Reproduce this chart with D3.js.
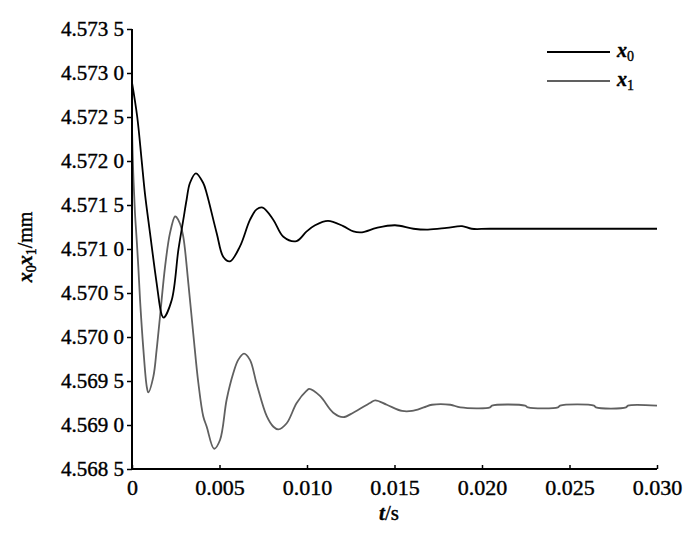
<!DOCTYPE html>
<html>
<head>
<meta charset="utf-8">
<script src="https://cdn.jsdelivr.net/npm/d3@7"></script>
<style>
  body { margin: 0; background: #fff; }
  svg { display: block; }
  text { font-family: "Liberation Serif", "DejaVu Serif", serif; fill: #000; stroke: #000; stroke-width: 0.4px; }
</style>
</head>
<body>
<div id="chart"></div>
<script>
// time axis (s) and displacement (mm)
var xTicks = [0, 0.005, 0.010, 0.015, 0.020, 0.025, 0.030];
var yTicks = [4.5685, 4.5690, 4.5695, 4.5700, 4.5705, 4.5710, 4.5715, 4.5720, 4.5725, 4.5730, 4.5735];
var seriesNames = ["x0", "x1"];

// x0 curve (black)
var x0Time = [0, 0.00030, 0.00055, 0.00074, 0.00103, 0.00141, 0.00170, 0.00181,
    0.00227, 0.00265, 0.00293, 0.00312, 0.00331, 0.00365, 0.00407, 0.00427, 0.00484,
    0.00522, 0.00560, 0.00617, 0.00674, 0.00712, 0.00747, 0.00808, 0.00865, 0.00940,
    0.00998, 0.01046, 0.01120, 0.01207, 0.01265, 0.01314, 0.01398, 0.01503, 0.01608, 0.01691,
    0.01798, 0.01886, 0.01941, 0.02046, 0.030];
var x0Value = [4.57289, 4.57250, 4.57201, 4.57163, 4.57118, 4.57061, 4.57025, 4.57022,
    4.57042, 4.57099, 4.57133, 4.57156, 4.57175, 4.57186, 4.57175, 4.57163, 4.57118,
    4.57091, 4.57086, 4.57103, 4.57133, 4.57145, 4.57147, 4.57133, 4.57114, 4.57109,
    4.57120, 4.57127, 4.57132, 4.57126, 4.57120, 4.57119, 4.57124, 4.57127, 4.57123, 4.57122,
    4.57124, 4.57126, 4.57123, 4.57123, 4.57123];

// x1 curve (grey)
var x1Time = [0, 0.00007, 0.00017, 0.00027, 0.00036, 0.00046, 0.00065, 0.00084, 0.00093, 0.00122,
    0.00141, 0.00160, 0.00189, 0.00217, 0.00246, 0.00255, 0.00274, 0.00293, 0.00322, 0.00350,
    0.00379, 0.00407, 0.00427, 0.00469, 0.00503, 0.00541, 0.00579, 0.00607, 0.00640, 0.00674,
    0.00712, 0.00770, 0.00808, 0.00836, 0.00884, 0.00941, 0.00998, 0.01013, 0.01074, 0.01150,
    0.01207, 0.01264, 0.01360, 0.01390, 0.01456, 0.01543, 0.01600, 0.01667, 0.01714, 0.01819,
    0.01876, 0.02046, 0.02057, 0.02247, 0.02263, 0.02434, 0.02446, 0.02640, 0.02651, 0.02823,
    0.02834, 0.030];
var x1Value = [4.57237, 4.57187, 4.57141, 4.57110, 4.57080, 4.57042, 4.56986, 4.56944, 4.56937, 4.56955,
    4.56986, 4.57023, 4.57080, 4.57118, 4.57137, 4.57136, 4.57129, 4.57114, 4.57061, 4.57004,
    4.56948, 4.56910, 4.56898, 4.56873, 4.56883, 4.56929, 4.56959, 4.56974, 4.56981, 4.56974,
    4.56947, 4.56910, 4.56898, 4.56895, 4.56902, 4.56925, 4.56939, 4.56941, 4.56933, 4.56914,
    4.56909, 4.56914, 4.56925, 4.56928, 4.56923, 4.56916, 4.56916, 4.56920, 4.56923, 4.56923,
    4.56920, 4.56920, 4.56922, 4.56922, 4.56920, 4.56920, 4.56922, 4.56922, 4.56920, 4.56920,
    4.56922, 4.56922];

var width = 700, height = 535;
var margin = {left: 132, right: 43, top: 29, bottom: 66};

var svg = d3.select("#chart").append("svg")
    .attr("width", width)
    .attr("height", height);

var x = d3.scaleLinear().domain([0, 0.030]).range([margin.left, width - margin.right]);
var y = d3.scaleLinear().domain([4.5685, 4.5735]).range([height - margin.bottom, margin.top]);

function yFormat(d) {
    var s = d3.format(".4f")(d);
    return s.slice(0, -1) + " " + s.slice(-1);
}
function xFormat(d) {
    return d === 0 ? "0" : d3.format(".3f")(d);
}

//curves
var line = d3.line()
    .x(function (d) { return x(d[0]); })
    .y(function (d) { return y(d[1]); })
    .curve(d3.curveCatmullRom.alpha(0.5));

var x1Data = d3.zip(x1Time, x1Value);
var x0Data = d3.zip(x0Time, x0Value);

svg.append("path")
    .datum(x1Data)
    .attr("fill", "none")
    .attr("stroke", "#606060")
    .attr("stroke-width", 1.8)
    .attr("d", line);

svg.append("path")
    .datum(x0Data)
    .attr("fill", "none")
    .attr("stroke", "#000")
    .attr("stroke-width", 1.8)
    .attr("d", line);

//axes
var yAxis = svg.append("g")
    .attr("transform", "translate(" + margin.left + ",0)")
    .call(d3.axisLeft(y).tickValues(yTicks).tickFormat(yFormat).tickSize(5).tickPadding(3));

var xAxis = svg.append("g")
    .attr("transform", "translate(0," + (height - margin.bottom) + ")")
    .call(d3.axisBottom(x).tickValues(xTicks).tickFormat(xFormat).tickSize(-4).tickPadding(10));

[yAxis, xAxis].forEach(function (g) {
    g.select(".domain").attr("stroke", "#000").attr("stroke-width", 2);
    g.selectAll(".tick line").attr("stroke", "#000").attr("stroke-width", 1.5);
});
yAxis.select(".domain").attr("d", "M" + 0 + "," + y(4.5685) + "V" + y(4.5735));
xAxis.select(".domain").attr("d", "M" + x(0) + ",0H" + x(0.030));

yAxis.selectAll(".tick text")
    .attr("font-family", "Liberation Serif")
    .attr("font-size", "21px")
    .attr("fill", "#000");
xAxis.selectAll(".tick text")
    .attr("font-family", "Liberation Serif")
    .attr("font-size", "22px")
    .attr("fill", "#000")
    .attr("dy", "0.71em");

//axis titles
var xTitle = svg.append("text")
    .attr("x", 389)
    .attr("y", 520)
    .attr("text-anchor", "middle")
    .attr("font-size", "21px");
xTitle.append("tspan").attr("font-style", "italic").attr("font-weight", "bold").text("t");
xTitle.append("tspan").text("/s");

var yTitle = svg.append("text")
    .attr("transform", "translate(32,247) rotate(-90)")
    .attr("text-anchor", "middle")
    .attr("font-size", "20px");
yTitle.append("tspan").attr("font-style", "italic").attr("font-weight", "bold").text("x");
yTitle.append("tspan").attr("font-size", "14px").attr("dy", 4).text("0");
yTitle.append("tspan").attr("font-style", "italic").attr("font-weight", "bold").attr("dy", -4).text("x");
yTitle.append("tspan").attr("font-size", "14px").attr("dy", 4).text("1");
yTitle.append("tspan").attr("dy", -4).text("/mm");

//legend
var legendColors = ["#000", "#606060"];
var legend = svg.selectAll(".legend")
    .data(seriesNames)
    .enter().append("g")
    .attr("class", "legend")
    .attr("transform", function (d, i) { return "translate(547," + (52 + i * 29) + ")"; });

legend.append("line")
    .attr("x1", 0).attr("x2", 63)
    .attr("stroke", function (d, i) { return legendColors[i]; })
    .attr("stroke-width", 1.8);

var legendText = legend.append("text")
    .attr("x", 70)
    .attr("y", 5)
    .attr("font-size", "20px");
legendText.append("tspan").attr("font-style", "italic").attr("font-weight", "bold").text("x");
legendText.append("tspan").attr("font-size", "14px").attr("dy", 4).text(function (d) { return d.slice(1); });
</script>
</body>
</html>
